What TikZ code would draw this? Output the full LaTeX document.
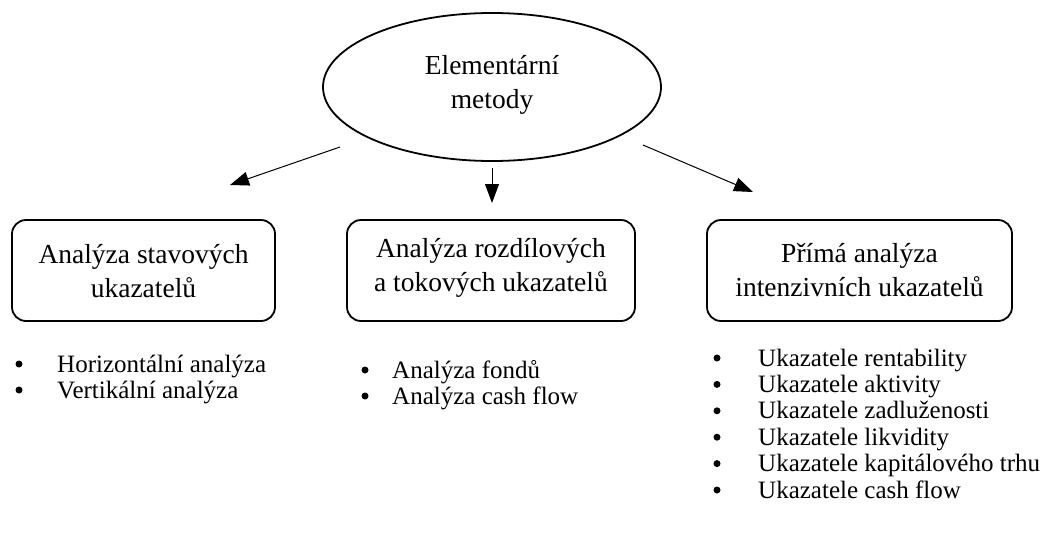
\documentclass[tikz,border=0pt]{standalone}
\usepackage{fontspec}
\setmainfont{Liberation Serif}
\usetikzlibrary{arrows.meta,shapes.geometric}
\begin{document}
\begin{tikzpicture}[x=1pt,y=-1pt,
  bigtext/.style={font=\fontsize{27.5}{33.5}\selectfont,align=center},
  boxnode/.style={draw,line width=1.8pt,rounded corners=14pt,inner sep=0pt},
  listtext/.style={font=\fontsize{25}{26}\selectfont,anchor=base west,inner sep=0pt},
  bul/.style={circle,fill,inner sep=0pt,minimum size=7pt},
  arr/.style={line width=1pt,-{Triangle[length=19pt,width=14pt]}}]
\useasboundingbox (0,0) rectangle (1046,536);
% ellipse
\node[ellipse,draw,line width=1.8pt,minimum width=338pt,minimum height=148pt,inner sep=0pt] (top) at (492,87) {};
\node[bigtext] (toptxt) at (492,85) {Elementární\\metody};
% boxes
\node[boxnode,minimum width=263pt,minimum height=101pt] (b1) at (143.5,270.5) {};
\node[boxnode,minimum width=288pt,minimum height=101pt] (b2) at (491,270.5) {};
\node[boxnode,minimum width=305pt,minimum height=101pt] (b3) at (859.5,270.5) {};
\node[bigtext] (t1) at (143.5,271) {Analýza stavových\\ukazatelů};
\node[bigtext] (t2) at (491,268) {Analýza rozdílových\\a tokových ukazatelů};
\node[bigtext] (t3) at (859.5,270) {Přímá analýza\\intenzivních ukazatelů};
% arrows
\coordinate (a1s) at (340,147); \coordinate (a1e) at (230,185);
\coordinate (a2s) at (492,168); \coordinate (a2e) at (492,203);
\coordinate (a3s) at (643,145); \coordinate (a3e) at (753,192);
\draw[arr] (a1s) -- (a1e);
\draw[arr] (a2s) -- (a2e);
\draw[arr] (a3s) -- (a3e);
% left list
\node[bul] (l1b) at (19,364) {};
\node[listtext] (l1) at (57,372) {Horizontální analýza};
\node[bul] (l2b) at (19,390) {};
\node[listtext] (l2) at (57,398) {Vertikální analýza};
% middle list
\node[bul] (m1b) at (365,370) {};
\node[listtext] (m1) at (392,378) {Analýza fondů};
\node[bul] (m2b) at (365,396) {};
\node[listtext] (m2) at (392,404) {Analýza cash flow};
% right list
\node[bul] (r1b) at (717,358) {};
\node[listtext] (r1) at (758,366) {Ukazatele rentability};
\node[bul] (r2b) at (717,384.4) {};
\node[listtext] (r2) at (758,392.4) {Ukazatele aktivity};
\node[bul] (r3b) at (717,410.8) {};
\node[listtext] (r3) at (758,418.8) {Ukazatele zadluženosti};
\node[bul] (r4b) at (717,437.2) {};
\node[listtext] (r4) at (758,445.2) {Ukazatele likvidity};
\node[bul] (r5b) at (717,463.6) {};
\node[listtext] (r5) at (758,471.6) {Ukazatele kapitálového trhu};
\node[bul] (r6b) at (717,490) {};
\node[listtext] (r6) at (758,498) {Ukazatele cash flow};
\end{tikzpicture}
\end{document}
